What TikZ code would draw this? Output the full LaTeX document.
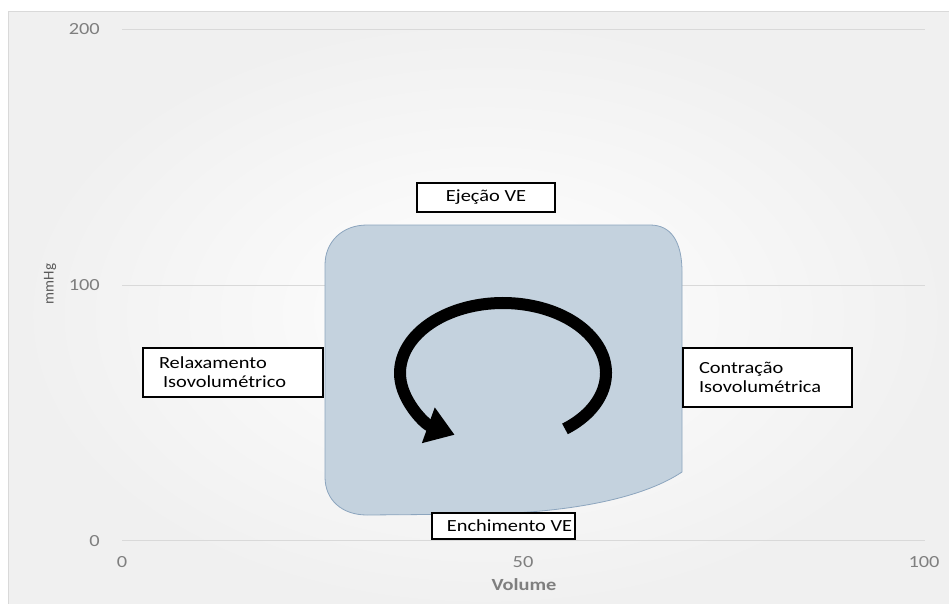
\documentclass[tikz,border=0pt]{standalone}
\usepackage{fontspec}
\setmainfont{Carlito}[FakeStretch=1.2]
\newfontfamily\plaincal{Carlito}
\usetikzlibrary{arrows.meta}
\definecolor{gridc}{RGB}{217,217,217}
\definecolor{axc}{RGB}{127,127,127}
\definecolor{ylabc}{RGB}{89,89,89}
\definecolor{loopfill}{RGB}{196,210,222}
\definecolor{loopdraw}{RGB}{140,165,190}
\begin{document}
\begin{tikzpicture}[x=1pt,y=-1pt,
  gridline/.style={draw=gridc, line width=0.9pt},
  ticklab/.style={text=axc, font=\fontsize{17}{19}\selectfont, inner sep=0pt},
  labelbox/.style={draw=black, line width=1.2pt, fill=white, font=\fontsize{17}{19}\selectfont, inner sep=0pt}]
\useasboundingbox (0,0) rectangle (949,604);
\fill[white] (0,0) rectangle (949,604);
\path[draw=gridc, line width=1pt, shading=radial, inner color=white, outer color=black!6] (8,12) rectangle (962,617);
% grid
\coordinate (g200a) at (122,29);  \coordinate (g200b) at (925,29);
\coordinate (g100a) at (122,285); \coordinate (g100b) at (925,285);
\coordinate (g0a) at (122,540);   \coordinate (g0b) at (925,540);
\draw[gridline] (g200a) -- (g200b);
\draw[gridline] (g100a) -- (g100b);
\draw[gridline] (g0a) -- (g0b);
% tick labels
\node[ticklab, anchor=east] (y200) at (100,29) {200};
\node[ticklab, anchor=east] (y100) at (100,285) {100};
\node[ticklab, anchor=east] (y0) at (100,541) {0};
\node[ticklab] (x0) at (122,562) {0};
\node[ticklab] (x50) at (523,562) {50};
\node[ticklab] (x100) at (924,562) {100};
\node[text=axc, font=\bfseries\fontsize{17}{19}\selectfont, inner sep=0pt] (xlab) at (524,585) {Volume};
\node[text=ylabc, font=\plaincal\fontsize{15}{17}\selectfont, rotate=90, inner sep=0pt] (ylab) at (50,284) {mmHg};
% PV loop area
\path[fill=loopfill, draw=loopdraw, line width=0.8pt]
  (325,265) -- (325,477)
  .. controls (325,500) and (342,515) .. (367,515)
  -- (490,514)
  .. controls (565,512) and (640,500) .. (682,472)
  -- (682,272)
  .. controls (682,243) and (672,225) .. (650,225)
  -- (367,225)
  .. controls (342,225) and (325,242) .. (325,265) -- cycle;
% circular arrow
\coordinate (c) at (503,373);
\draw[line width=12pt, -{Triangle[length=28pt,width=36pt]}]
  ([shift={(53:103 and 70)}]c) arc[start angle=53, end angle=-242, x radius=103, y radius=70];
% labels
\node[labelbox, minimum width=138pt, minimum height=29pt] (eje) at (486,197.5) {Ejeção VE};
\node[labelbox, minimum width=180pt, minimum height=49pt, text width=148pt, align=left] (rel) at (233,372.5) {Relaxamento\\\hspace*{4pt}Isovolumétrico};
\node[labelbox, minimum width=169pt, minimum height=59pt, text width=137pt, align=left] (con) at (767.5,377.5) {Contração\\Isovolumétrica};
\node[labelbox, minimum width=143pt, minimum height=26pt] (enc) at (503.5,526) {\hspace*{12pt}Enchimento VE};
\end{tikzpicture}
\end{document}
